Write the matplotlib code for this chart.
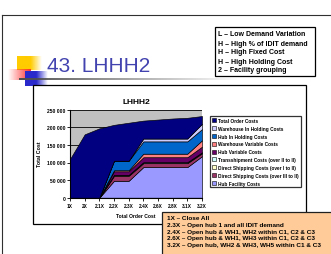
import numpy as np
import matplotlib
matplotlib.use('Agg')
import matplotlib.pyplot as plt
from matplotlib.patches import Rectangle, Patch
from matplotlib.ticker import FuncFormatter

plt.rcParams['font.family'] = ['Liberation Sans', 'DejaVu Sans']

W, H = 331, 255

# scenarios along the x axis
scenarios = ['1X', '2X', '2.1X', '2.2X', '2.3X', '2.4X', '2.6X', '2.8X', '3.1X', '3.2X']

# cost components (thousands), stacked bottom to top
hub_facility = [0, 0, 0, 48, 48, 87, 87, 87, 87, 118]
direct_ship_3 = [0, 0, 0, 14, 14, 11, 11, 11, 11, 8]
direct_ship_1 = [0, 0, 0, 1.5, 1.5, 1.5, 1.5, 1.5, 1.5, 1.5]
transship = [0, 0, 0, 1.5, 1.5, 1.5, 1.5, 1.5, 1.5, 1.5]
hub_variable = [0, 0, 0, 10, 10, 14, 14, 14, 14, 16]
wh_variable = [0, 0, 0, 3, 3, 10, 10, 10, 10, 18]
hub_holding = [0, 0, 0, 27, 27, 35, 35, 35, 35, 32]
wh_holding = [0, 0, 0, 0, 0, 8, 8, 8, 8, 15]
order_cost = [110, 180, 197, 102, 108, 51, 54, 57, 59, 22]

series_labels = ['Hub Facility Costs',
                 'Direct Shipping Costs (over III to II)',
                 'Direct Shipping Costs (over I to II)',
                 'Transshipment Costs (over II to II)',
                 'Hub Variable Costs',
                 'Warehouse Variable Costs',
                 'Hub In Holding Costs',
                 'Warehouse In Holding Costs',
                 'Total Order Costs']
series_colors = ['#9999FF', '#993366', '#FFFFCC', '#CCFFFF', '#660066',
                 '#FF8080', '#0066CC', '#CCCCFF', '#000080']

key_lines = ['L \u2013 Low Demand Variation',
             'H \u2013 High % of IDIT demand',
             'H \u2013 High Fixed Cost',
             'H \u2013 High Holding Cost',
             '2 \u2013 Facility grouping']

note_lines = ['1X \u2013 Close All',
              '2.3X \u2013 Open hub 1 and all IDIT demand',
              '2.4X \u2013 Open hub & WH1, WH2 within C1, C2 & C3',
              '2.6X \u2013 Open hub & WH1, WH3 within C1, C2 & C3',
              '3.2X \u2013 Open hub, WH2 & WH3, WH5 within C1 & C3']


def fx(x):
    return x / W


def fy(y):
    return 1 - y / H


def gradient(ax, x0, x1, y0, y1, color, fade_from=0.0, reverse=False):
    # horizontal fade of a solid colour into the white slide
    n = 64
    t = np.linspace(0, 1, n)
    if reverse:
        alpha = np.clip(t / (1 - fade_from), 0, 1)
    else:
        alpha = np.clip((1 - t) / (1 - fade_from), 0, 1)
    img = np.zeros((1, n, 4))
    img[0, :, :3] = matplotlib.colors.to_rgb(color)
    img[0, :, 3] = alpha
    ax.imshow(img, extent=[x0, x1, y1, y0], aspect='auto', interpolation='bilinear')


fig = plt.figure(figsize=(W / 100, H / 100), dpi=100)
fig.patch.set_facecolor('white')

# background layer in pixel coordinates
bg = fig.add_axes([0, 0, 1, 1], zorder=0)
bg.axis('off')

# slide frame
bg.plot([2, W], [16, 16], color='#303030', lw=0.8)
bg.plot([2, 2], [16, H], color='#303030', lw=0.8)

# title decoration
gradient(bg, 17, 42, 57, 71, '#FFCC00', fade_from=0.55)
gradient(bg, 8, 31, 70, 81, '#FF3030', reverse=True)
gradient(bg, 25, 48, 72, 87, '#2A2ACC', fade_from=0.5)
gradient(bg, 19, 240, 79.5, 81.5, '#505050')
bg.set_xlim(0, W)
bg.set_ylim(H, 0)

bg.text(47, 67, '43. LHHH2', fontsize=15, color='#4343B0', va='center', ha='left')

# key box top right
bg.add_patch(Rectangle((215, 28), 100, 49, facecolor='white', edgecolor='black', lw=0.9))
for i, line in enumerate(key_lines):
    bg.text(218, 35 + i * 9, line, fontsize=5.0, fontweight='bold', va='center', ha='left')

# chart box
bg.add_patch(Rectangle((33, 86), 273, 139, facecolor='white', edgecolor='black', lw=0.9))
bg.text(136, 103, 'LHHH2', fontsize=6, fontweight='bold', ha='center', va='center')

# stacked area chart
ax = fig.add_axes([fx(70), fy(198.7), fx(202) - fx(70), (198.7 - 110.7) / H], zorder=1)
x = np.arange(len(scenarios))
stack = [np.array(s) * 1000 for s in [hub_facility, direct_ship_3, direct_ship_1, transship,
                                      hub_variable, wh_variable, hub_holding, wh_holding, order_cost]]
ax.stackplot(x, *stack, colors=series_colors, edgecolor='black', linewidth=0.45, zorder=2)
ax.set_facecolor('#C0C0C0')
ax.set_xlim(0, len(scenarios) - 1)
ax.set_ylim(0, 250000)
ax.set_yticks(np.arange(0, 250001, 50000))
ax.yaxis.set_major_formatter(FuncFormatter(lambda v, p: f'{int(v):,}'.replace(',', ' ')))
ax.set_xticks(x)
ax.set_xticklabels(scenarios)
ax.yaxis.grid(True, color='black', lw=0.6)
ax.set_axisbelow(True)
for side in ['top', 'right']:
    ax.spines[side].set_visible(False)
for side in ['left', 'bottom']:
    ax.spines[side].set_linewidth(0.8)
ax.tick_params(axis='both', length=2, width=0.6, pad=1.5)
for lab in ax.get_yticklabels():
    lab.set_fontsize(3.6)
    lab.set_fontweight('bold')
for lab in ax.get_xticklabels():
    lab.set_fontsize(3.4)
    lab.set_fontweight('bold')
ax.set_ylabel('Total Cost', fontsize=3.8, fontweight='bold', labelpad=3)
ax.set_xlabel('Total Order Cost', fontsize=3.6, fontweight='bold', labelpad=4)

handles = [Patch(facecolor=c, edgecolor='black', lw=0.4) for c in series_colors][::-1]
leg = fig.legend(handles, series_labels[::-1], loc='upper left',
                 bbox_to_anchor=(fx(210), fy(117)),
                 prop={'weight': 'bold', 'size': 3.4},
                 frameon=True, fancybox=False, edgecolor='black',
                 handlelength=0.9, handleheight=0.9, handletextpad=0.4,
                 labelspacing=0.6, borderpad=0.4, borderaxespad=0)
leg.get_frame().set_linewidth(0.9)
leg.set_zorder(3)

# notes box bottom right
fg = fig.add_axes([0, 0, 1, 1], zorder=4)
fg.axis('off')
fg.add_patch(Rectangle((162, 213), 175, 50, facecolor='#FFCC99', edgecolor='#202020', lw=0.9))
for i, line in enumerate(note_lines):
    fg.text(167, 219 + i * 6.6, line, fontsize=4.6, fontweight='bold', va='center', ha='left')
fg.set_xlim(0, W)
fg.set_ylim(H, 0)

fig.savefig('out.png', dpi=100)
